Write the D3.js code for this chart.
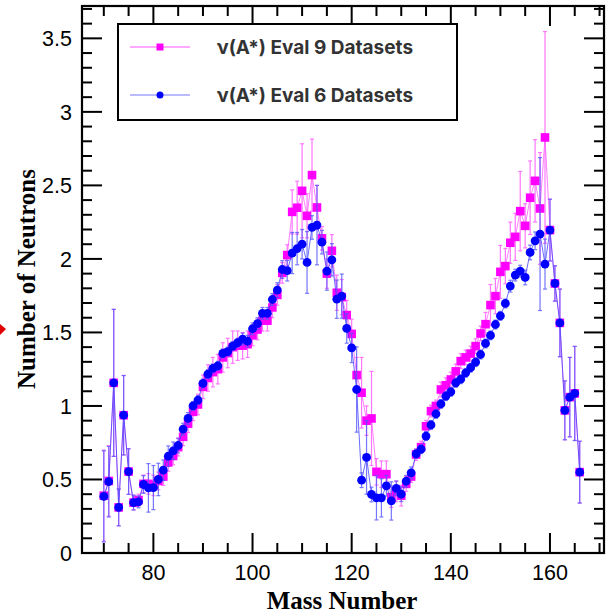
<!DOCTYPE html>
<html><head><meta charset="utf-8">
<script src="https://cdn.jsdelivr.net/npm/d3@7"></script>
<style>body{margin:0;background:#fff}svg{display:block}</style>
</head><body>
<svg id="c" width="616" height="613"></svg>
<script>
const massNumbers = d3.range(70, 167);
const eval6Values = [0.385,0.485,1.157,0.31,0.937,0.554,0.343,0.348,0.466,0.443,
0.445,0.50,0.563,0.658,0.695,0.731,0.842,0.915,1.00,1.04,
1.153,1.216,1.255,1.273,1.357,1.37,1.407,1.43,1.455,1.44,
1.525,1.56,1.63,1.63,1.724,1.788,1.928,1.92,2.04,2.07,
2.10,1.976,2.214,2.23,2.114,1.917,1.994,1.726,1.747,1.527,
1.395,1.112,0.495,0.65,0.398,0.375,0.375,0.457,0.354,0.439,
0.40,0.488,0.545,0.674,0.706,0.795,0.871,0.946,1.014,1.067,
1.096,1.157,1.182,1.225,1.26,1.298,1.35,1.425,1.48,1.554,
1.613,1.697,1.815,1.89,1.917,1.874,2.044,2.123,2.169,1.965,
2.196,1.833,1.565,0.97,1.06,1.085,0.55];
const eval6Errors = [0.31,0.24,0.50,0.125,0.27,0.155,0.05,0.04,0.06,0.165,
0.15,0.11,0.07,0.07,0.06,0.05,0.04,0.04,0.03,0.03,
0.03,0.03,0.03,0.03,0.03,0.03,0.03,0.03,0.04,0.04,
0.04,0.04,0.04,0.04,0.04,0.05,0.06,0.07,0.14,0.11,
0.10,0.21,0.08,0.27,0.08,0.13,0.11,0.13,0.15,0.10,
0.10,0.29,0.05,0.25,0.05,0.15,0.13,0.07,0.13,0.05,
0.05,0.04,0.04,0.03,0.03,0.03,0.03,0.03,0.03,0.03,
0.03,0.03,0.03,0.03,0.03,0.03,0.03,0.03,0.03,0.03,
0.03,0.03,0.04,0.04,0.04,0.05,0.05,0.06,0.52,0.17,
0.21,0.12,0.23,0.20,0.27,0.32,0.21];
const eval9Values = [0.39,0.49,1.157,0.31,0.937,0.554,0.343,0.36,0.47,0.47,
0.46,0.49,0.52,0.616,0.66,0.72,0.79,0.88,0.96,1.01,
1.13,1.19,1.23,1.25,1.33,1.36,1.40,1.41,1.41,1.42,
1.48,1.52,1.58,1.58,1.67,1.755,1.905,2.026,2.32,2.348,
2.463,2.293,2.57,2.35,2.14,1.90,2.055,1.77,1.74,1.618,
1.49,1.21,1.09,0.90,0.915,0.552,0.536,0.536,0.38,0.42,
0.39,0.47,0.52,0.67,0.72,0.862,0.965,1.0,1.112,1.141,
1.18,1.235,1.305,1.33,1.356,1.407,1.493,1.556,1.686,1.747,
1.912,1.951,2.11,2.15,2.325,2.225,2.416,2.531,2.343,2.826,
2.196,1.833,1.565,0.97,1.06,1.085,0.55];
const eval9Errors = [0.31,0.24,0.50,0.125,0.27,0.155,0.05,0.04,0.06,0.07,
0.07,0.06,0.06,0.06,0.06,0.06,0.06,0.06,0.06,0.07,
0.08,0.09,0.10,0.10,0.10,0.10,0.11,0.10,0.09,0.09,
0.07,0.07,0.07,0.07,0.07,0.07,0.07,0.07,0.15,0.18,
0.32,0.15,0.245,0.15,0.08,0.10,0.11,0.12,0.12,0.10,
0.10,0.12,0.24,0.10,0.32,0.09,0.09,0.09,0.07,0.07,
0.07,0.05,0.04,0.04,0.04,0.04,0.04,0.04,0.05,0.05,
0.05,0.05,0.05,0.05,0.05,0.05,0.05,0.08,0.14,0.12,
0.18,0.12,0.14,0.16,0.27,0.15,0.25,0.28,0.38,0.72,
0.21,0.12,0.23,0.20,0.27,0.32,0.21];
const xTicks = [80,100,120,140,160];
const yTicks = [0,0.5,1,1.5,2,2.5,3,3.5];
const legendLabels = ["\u03BD(A*) Eval 9 Datasets","\u03BD(A*) Eval 6 Datasets"];
const axisTitles = {x:"Mass Number", y:"Number of Neutrons"};

const svg = d3.select("#c");
const L=82, R=604, T=6, B=553;
const x = d3.scaleLinear().domain([65.6,170.9]).range([L,R]);
const y = d3.scaleLinear().domain([0,3.72]).range([B,T]);

const series = [
  {vals:eval9Values, errs:eval9Errors, color:"#ff00ff", line:"#ff55ff", bar:"#ff55ff", shape:"square"},
  {vals:eval6Values, errs:eval6Errors, color:"#0000ff", line:"#3a3aff", bar:"#5555ff", shape:"circle"}
];

const plot = svg.append("g");
series.forEach(s=>{
  const data = massNumbers.map((a,i)=>({a, v:s.vals[i], e:s.errs[i]}));
  const g = plot.append("g");
  g.append("path").datum(data)
    .attr("d", d3.line().x(d=>x(d.a)).y(d=>y(d.v)))
    .attr("fill","none").attr("stroke",s.line).attr("stroke-width",1).attr("opacity",0.75);
  const eb = g.append("g").attr("stroke",s.bar).attr("stroke-width",1.2).attr("opacity",0.8);
  data.forEach(d=>{
    eb.append("line").attr("x1",x(d.a)).attr("x2",x(d.a)).attr("y1",y(d.v-d.e)).attr("y2",y(d.v+d.e));
    [d.v-d.e,d.v+d.e].forEach(vv=>{
      eb.append("line").attr("x1",x(d.a)-2).attr("x2",x(d.a)+2).attr("y1",y(vv)).attr("y2",y(vv));
    });
  });
  if(s.shape==="square"){
    g.selectAll("rect").data(data).join("rect")
      .attr("x",d=>x(d.a)-4.3).attr("y",d=>y(d.v)-4.3).attr("width",8.6).attr("height",8.6)
      .attr("fill",s.color);
  } else {
    g.selectAll("circle").data(data).join("circle")
      .attr("cx",d=>x(d.a)).attr("cy",d=>y(d.v)).attr("r",4.4).attr("fill",s.color);
  }
});

// axes with inward ticks
const axG = svg.append("g").attr("stroke","#000");
const xMinor = d3.range(70,171,5), yMinor = d3.range(0,3.71,0.1);
xMinor.forEach(t=>{
  const len = (t%20===0)?20:10;
  axG.append("line").attr("x1",x(t)).attr("x2",x(t)).attr("y1",B).attr("y2",B-len).attr("stroke-width",2);
  axG.append("line").attr("x1",x(t)).attr("x2",x(t)).attr("y1",T).attr("y2",T+len).attr("stroke-width",2);
});
yMinor.forEach(t=>{
  const r = Math.round(t*10);
  const len = (r%5===0)?20:10;
  axG.append("line").attr("x1",L).attr("x2",L+len).attr("y1",y(t)).attr("y2",y(t)).attr("stroke-width",2);
  axG.append("line").attr("x1",R).attr("x2",R-len).attr("y1",y(t)).attr("y2",y(t)).attr("stroke-width",2);
});
svg.append("rect").attr("x",L).attr("y",T).attr("width",R-L).attr("height",B-T)
  .attr("fill","none").attr("stroke","#000").attr("stroke-width",2.2);

const tf = "'Liberation Sans', Arial, sans-serif";
svg.append("g").selectAll("text").data(xTicks).join("text")
  .attr("x",d=>x(d)).attr("y",B+27).attr("text-anchor","middle")
  .attr("font-family",tf).attr("font-size",21.5).text(d=>d);
svg.append("g").selectAll("text").data(yTicks).join("text")
  .attr("x",72).attr("y",d=>y(d)+8).attr("text-anchor","end")
  .attr("font-family",tf).attr("font-size",21.5).text(d=>d);

svg.append("text").attr("x",342).attr("y",609).attr("text-anchor","middle")
  .attr("font-family","'Liberation Serif', 'Times New Roman', serif").attr("font-weight","bold")
  .attr("font-size",25).text(axisTitles.x);
svg.append("text").attr("transform","translate(35,279) rotate(-90)").attr("text-anchor","middle")
  .attr("font-family","'Liberation Serif', 'Times New Roman', serif").attr("font-weight","bold")
  .attr("font-size",25).text(axisTitles.y);

// small red marker at left edge
svg.append("path").attr("d","M0,324 L6,329 L0,335 Z").attr("fill","#e00000");

// legend
const lg = svg.append("g");
lg.append("rect").attr("x",118).attr("y",24).attr("width",339).attr("height",96)
  .attr("fill","#fff").attr("stroke","#000").attr("stroke-width",2);
const legY = [47,95];
series.forEach((s,i)=>{
  lg.append("line").attr("x1",130).attr("x2",190).attr("y1",legY[i]).attr("y2",legY[i])
    .attr("stroke",i===0?"#ff55ff":"#7777ff").attr("stroke-width",1.2);
  if(s.shape==="square") lg.append("rect").attr("x",156.5).attr("y",legY[i]-3.5).attr("width",7).attr("height",7).attr("fill",s.color);
  else lg.append("circle").attr("cx",160).attr("cy",legY[i]).attr("r",3.5).attr("fill",s.color);
  lg.append("text").attr("x",217).attr("y",legY[i]+7).attr("font-family","Inter, 'Open Sans', sans-serif")
    .attr("font-weight","bold").attr("font-size",19).attr("fill","#333").text(legendLabels[i]);
});
</script>
</body></html>
